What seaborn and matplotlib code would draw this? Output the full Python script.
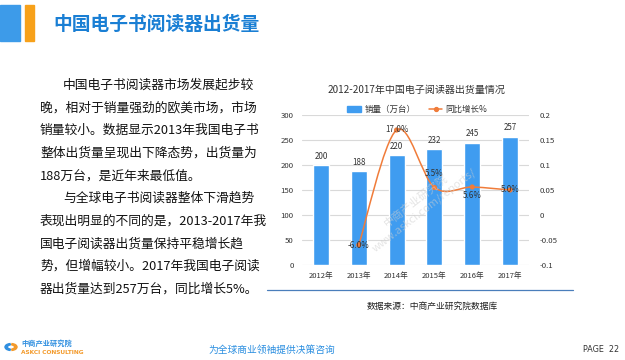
import matplotlib
matplotlib.use("Agg")
import matplotlib.pyplot as plt
import seaborn as sns
import pandas as pd
import numpy as np
from matplotlib.path import Path
from matplotlib.patches import PathPatch, Rectangle, Wedge

years = ["2012年", "2013年", "2014年", "2015年", "2016年", "2017年"]
sales = [200, 188, 220, 232, 245, 257]
growth_years = ["2013年", "2014年", "2015年", "2016年", "2017年"]
growth = [-0.06, 0.17, 0.055, 0.056, 0.05]
growth_labels = ["-6.0%", "17.0%", "5.5%", "5.6%", "5.0%"]
left_ticks = [0, 50, 100, 150, 200, 250, 300]
right_ticks = [-0.1, -0.05, 0, 0.05, 0.1, 0.15, 0.2]
right_tick_labels = ["-0.1", "-0.05", "0", "0.05", "0.1", "0.15", "0.2"]

sns.set_theme(style="white")
CJK = ["Noto Sans CJK SC", "DejaVu Sans"]
plt.rcParams["font.family"] = CJK
plt.rcParams["axes.unicode_minus"] = False

W, H = 625, 360
fig = plt.figure(figsize=(6.25, 3.6), dpi=100)

def fx(x):
    return x / W

def fy(y):
    return 1 - y / H

# header
fig.patches.append(Rectangle((fx(0), fy(41)), fx(20), 36 / H, transform=fig.transFigure,
                             color="#3d9be9", zorder=0))
fig.patches.append(Rectangle((fx(25), fy(41)), fx(9), 36 / H, transform=fig.transFigure,
                             color="#f7a11a", zorder=0))
fig.text(fx(53), fy(24), "中国电子书阅读器出货量", fontsize=13.5, color="#1a7fd4",
         va="center", ha="left", fontweight="bold")

# left paragraph
lines = [
    (63, "中国电子书阅读器市场发展起步较"),
    (40, "晚，相对于销量强劲的欧美市场，市场"),
    (40, "销量较小。数据显示2013年我国电子书"),
    (40, "整体出货量呈现出下降态势，出货量为"),
    (40, "188万台，是近年来最低值。"),
    (63, "与全球电子书阅读器整体下滑趋势"),
    (40, "表现出明显的不同的是，2013-2017年我"),
    (40, "国电子阅读器出货量保持平稳增长趋"),
    (40, "势，但增幅较小。2017年我国电子阅读"),
    (40, "器出货量达到257万台，同比增长5%。"),
]
for i, (x, t) in enumerate(lines):
    fig.text(fx(x), fy(85 + i * 22.7), t, fontsize=9.2, color="#111111",
             va="center", ha="left")

# chart
ax = fig.add_axes([fx(302), fy(265), (529 - 302) / W, (265 - 115) / H])
df = pd.DataFrame({"year": years, "sales": sales})
sns.barplot(data=df, x="year", y="sales", color="#3f9cf0", width=0.42,
            saturation=1, ax=ax, zorder=2)
ax.set_ylim(0, 300)
ax.set_xlim(-0.5, 5.5)
ax.set_yticks(left_ticks)
ax.set_yticklabels([str(v) for v in left_ticks])
ax.grid(axis="y", color="#d9d9d9", linewidth=0.8, zorder=0)
ax.set_axisbelow(True)
for s in ax.spines.values():
    s.set_visible(False)
ax.set_xlabel("")
ax.set_ylabel("")
ax.tick_params(axis="both", length=0, labelsize=5.6, colors="#333333", pad=6)
ax.tick_params(axis="x", labelsize=5.5, pad=5)
for i, v in enumerate(sales):
    ax.text(i, v + 8, str(v), ha="center", va="bottom", fontsize=5.8, color="#333333")

ax2 = ax.twinx()
ax2.set_ylim(-0.1, 0.2)
ax2.set_yticks(right_ticks)
ax2.set_yticklabels(right_tick_labels)
for s in ax2.spines.values():
    s.set_visible(False)
ax2.tick_params(axis="y", length=0, labelsize=5.6, colors="#333333", pad=8)
ax2.grid(False)

gx = [years.index(y) for y in growth_years]
pts = np.array(list(zip(gx, growth)), dtype=float)
verts = [tuple(pts[0])]
codes = [Path.MOVETO]
n = len(pts)
for k in range(n - 1):
    p0 = pts[max(k - 1, 0)]
    p1 = pts[k]
    p2 = pts[k + 1]
    p3 = pts[min(k + 2, n - 1)]
    c1 = p1 + (p2 - p0) / 6
    c2 = p2 - (p3 - p1) / 6
    verts += [tuple(c1), tuple(c2), tuple(p2)]
    codes += [Path.CURVE4] * 3
ax2.add_patch(PathPatch(Path(verts, codes), facecolor="none", edgecolor="#f07c3a",
                        linewidth=1.1, zorder=3))
gdf = pd.DataFrame({"x": gx, "g": growth})
sns.scatterplot(data=gdf, x="x", y="g", color="#f07c3a", s=14, edgecolor="none",
                ax=ax2, zorder=4, legend=False)
ax2.set_xlabel("")
ax2.set_ylabel("")
offsets = [0, 0, 0.028, -0.018, 0]
for xi, g, lab, off in zip(gx, growth, growth_labels, offsets):
    ax2.text(xi, g + off, lab, ha="center", va="center", fontsize=5.8, color="#333333", zorder=5)
ax2.set_xlim(-0.5, 5.5)

# chart title and legend
fig.text(fx(416), fy(90), "2012-2017年中国电子阅读器出货量情况", fontsize=7.2,
         color="#333333", ha="center", va="center")
fig.patches.append(Rectangle((fx(347), fy(112)), fx(14), 6 / H, transform=fig.transFigure,
                             color="#3f9cf0"))
fig.text(fx(365), fy(109), "销量（万台）", fontsize=6.1, color="#333333", ha="left", va="center")
fig.lines.append(plt.Line2D([fx(429), fx(442)], [fy(109), fy(109)], transform=fig.transFigure,
                            color="#f07c3a", linewidth=1.1))
fig.lines.append(plt.Line2D([fx(435.5)], [fy(109)], transform=fig.transFigure,
                            color="#f07c3a", marker="o", markersize=2.8, linestyle="none"))
fig.text(fx(445), fy(109), "同比增长%", fontsize=6.1, color="#333333", ha="left", va="center")

# watermark
fig.text(fx(420), fy(205), "中商产业研究院\nwww.askci.com/reports/", fontsize=8, color="#cfcfcf",
         alpha=0.55, rotation=38, ha="center", va="center", zorder=10)

# separator line and source
fig.lines.append(plt.Line2D([fx(267), fx(573)], [fy(290), fy(290)], transform=fig.transFigure,
                            color="#4a7ebb", linewidth=0.9))
fig.text(fx(367), fy(306), "数据来源：中商产业研究院数据库", fontsize=6.3, color="#222222",
         ha="left", va="center")

# footer
fig.patches.append(Wedge((fx(11), fy(347)), 6 / W, 100, 260, width=2.4 / W,
                         transform=fig.transFigure, color="#2f8fe0"))
fig.patches.append(Wedge((fx(11), fy(347)), 6 / W, -80, 80, width=2.4 / W,
                         transform=fig.transFigure, color="#f39a2b"))
fig.text(fx(21), fy(343), "中商产业研究院", fontsize=5.2, color="#2f8fe0", fontweight="bold",
         ha="left", va="center")
fig.text(fx(21), fy(353), "ASKCI CONSULTING", fontsize=4.2, color="#f39a2b", fontweight="bold",
         ha="left", va="center", family=["DejaVu Sans"])
fig.text(fx(272), fy(350), "为全球商业领袖提供决策咨询", fontsize=7, color="#2a8ee0",
         style="italic", ha="center", va="center")
fig.text(fx(583), fy(349), "PAGE  22", fontsize=5.8, color="#333333", ha="left", va="center",
         family=["DejaVu Sans"])

fig.savefig("out.png", dpi=100)
